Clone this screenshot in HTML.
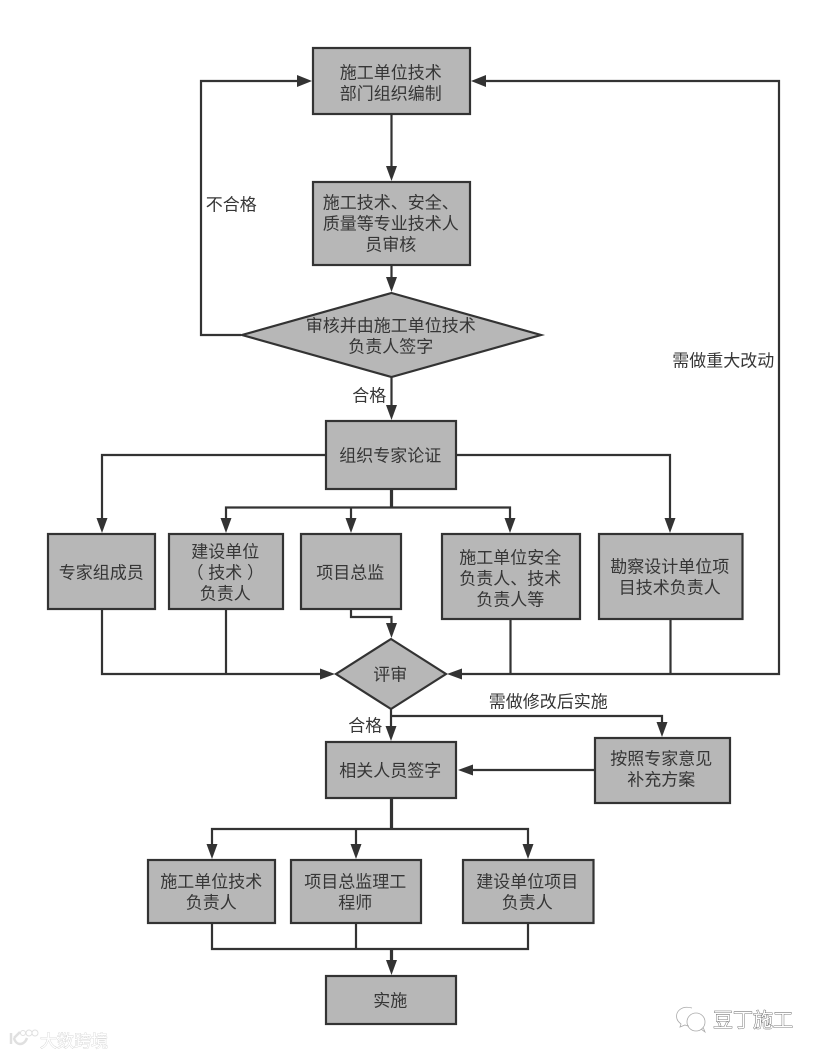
<!DOCTYPE html>
<html lang="zh">
<head>
<meta charset="utf-8">
<title>流程图</title>
<style>
html,body{margin:0;padding:0;background:#fff}
svg{display:block}
text{font-family:"Liberation Sans","Noto Sans CJK SC",sans-serif;font-size:17px;fill:#363636;text-anchor:middle}
.b{fill:#b7b7b7;stroke:#333;stroke-width:2.2}
.l{fill:none;stroke:#333;stroke-width:2.2}
.t{fill:none;stroke:#333;stroke-width:3.2}
.a{fill:#333;stroke:none}
</style>
</head>
<body>
<svg width="820" height="1056" viewBox="0 0 820 1056" xmlns="http://www.w3.org/2000/svg">
<rect width="820" height="1056" fill="#fff"/>

<!-- connectors -->
<path class="l" d="M391.500 114V167"/>
<path class="l" d="M241 335H201V81H298"/>
<path class="l" d="M486 81H779V674H460"/>
<path class="l" d="M391.500 265V280"/>
<path class="l" d="M391.500 377V407"/>
<path class="l" d="M326 455H102V519"/>
<path class="l" d="M456 455H670V519"/>
<path class="t" d="M391.500 489V507.500"/>
<path class="l" d="M226 519V507.500H510V519"/>
<path class="l" d="M351 507.500V519"/>
<path class="l" d="M102 609V674H322"/>
<path class="l" d="M226 609V674"/>
<path class="l" d="M351 609V617H391.500V625"/>
<path class="l" d="M510.500 619V674"/>
<path class="l" d="M670.500 619V674"/>
<path class="l" d="M391 709V728"/>
<path class="l" d="M391 716H662V724"/>
<path class="l" d="M595 770H472"/>
<path class="t" d="M391.500 798V829"/>
<path class="l" d="M212 846V829H528V846"/>
<path class="l" d="M356 829V846"/>
<path class="l" d="M212 923V949H528V923"/>
<path class="l" d="M356 923V949"/>
<path class="t" d="M391.500 949V962"/>

<!-- arrowheads -->
<path class="a" d="M312 81L297 75V87Z"/>
<path class="a" d="M471 81L486 75V87Z"/>
<path class="a" d="M391.500 181L386 166H397Z"/>
<path class="a" d="M391.500 292L386 277H397Z"/>
<path class="a" d="M391.500 420L386 405H397Z"/>
<path class="a" d="M102 533L96.500 518H107.500Z"/>
<path class="a" d="M226 533L220.500 518H231.500Z"/>
<path class="a" d="M351 533L345.500 518H356.500Z"/>
<path class="a" d="M510 533L504.500 518H515.500Z"/>
<path class="a" d="M670 533L664.500 518H675.500Z"/>
<path class="a" d="M391.500 638L386 623H397Z"/>
<path class="a" d="M335 674L320 668.500V679.500Z"/>
<path class="a" d="M447 674L462 668.500V679.500Z"/>
<path class="a" d="M391 741L385.500 726H396.500Z"/>
<path class="a" d="M662 737L656.500 722H667.500Z"/>
<path class="a" d="M458 770L473 764.500V775.500Z"/>
<path class="a" d="M212 859L206.500 844H217.500Z"/>
<path class="a" d="M356 859L350.500 844H361.500Z"/>
<path class="a" d="M528 859L522.500 844H533.500Z"/>
<path class="a" d="M391.500 975L386 960H397Z"/>

<!-- nodes -->
<rect class="b" x="313" y="48" width="157" height="66"/>
<rect class="b" x="313" y="182" width="157" height="83"/>
<polygon class="b" points="391.500,293 541,335 391.500,377 242,335"/>
<rect class="b" x="326" y="421" width="130" height="68"/>
<rect class="b" x="48" y="534" width="107" height="75"/>
<rect class="b" x="169" y="534" width="114" height="75"/>
<rect class="b" x="301" y="534" width="100" height="75"/>
<rect class="b" x="442" y="534" width="138" height="85"/>
<rect class="b" x="599" y="534" width="143.500" height="85"/>
<polygon class="b" points="391,639 446,674 391,709 336,674"/>
<rect class="b" x="326" y="742" width="130" height="56"/>
<rect class="b" x="595" y="738" width="135" height="65"/>
<rect class="b" x="148" y="860" width="127" height="63"/>
<rect class="b" x="291" y="860" width="130" height="63"/>
<rect class="b" x="463" y="860" width="130.500" height="63"/>
<rect class="b" x="326" y="976" width="130" height="48"/>

<g transform="translate(-.7,.6)">
<!-- node text -->
<text x="391.500" y="78">施工单位技术</text>
<text x="391.500" y="99">部门组织编制</text>
<text x="391.500" y="208">施工技术、安全、</text>
<text x="391.500" y="229">质量等专业技术人</text>
<text x="391.500" y="250">员审核</text>
<text x="391.500" y="331">审核并由施工单位技术</text>
<text x="391.500" y="352">负责人签字</text>
<text x="391" y="461">组织专家论证</text>
<text x="102" y="578">专家组成员</text>
<text x="226" y="557">建设单位</text>
<text x="226" y="578">（ 技术 ）</text>
<text x="226" y="599">负责人</text>
<text x="351" y="578">项目总监</text>
<text x="511" y="563">施工单位安全</text>
<text x="511" y="584">负责人、技术</text>
<text x="511" y="605">负责人等</text>
<text x="670.500" y="572">勘察设计单位项</text>
<text x="670.500" y="593">目技术负责人</text>
<text x="391" y="680">评审</text>
<text x="391" y="776">相关人员签字</text>
<text x="662" y="764">按照专家意见</text>
<text x="662" y="785">补充方案</text>
<text x="212" y="887">施工单位技术</text>
<text x="212" y="908">负责人</text>
<text x="356" y="887">项目总监理工</text>
<text x="356" y="908">程师</text>
<text x="528" y="887">建设单位项目</text>
<text x="528" y="908">负责人</text>
<text x="391" y="1006">实施</text>

<!-- edge labels -->
<text x="232" y="210">不合格</text>
<text x="724" y="366">需做重大改动</text>
<text x="370" y="401">合格</text>
<text x="366" y="731">合格</text>
<text x="549" y="707">需做修改后实施</text>
</g>

<!-- watermark left -->
<g opacity=".9">
<path d="M11 1033V1044M14 1038L20 1032M14 1038C16 1046 24 1046 27 1038" fill="none" stroke="#ddd" stroke-width="2.500"/>
<circle cx="23" cy="1033" r="2.500" fill="none" stroke="#ddd"/>
<circle cx="29" cy="1033" r="3" fill="none" stroke="#ddd"/>
<circle cx="35" cy="1033" r="3" fill="none" stroke="#ddd"/>
<text x="74" y="1047" style="font-size:17px;fill:#fff;stroke:#cfcfcf;stroke-width:.8;paint-order:stroke">大数跨境</text>
</g>

<!-- watermark right -->
<g fill="none" stroke="#aaa" stroke-width=".8">
<path d="M692 1008C681 1005 675 1012 677 1019C678 1022 680 1023 681 1024L680 1027L685 1025C687 1026 688 1026 689 1026"/>
<circle cx="696" cy="1022" r="9"/>
<path d="M701 1029L705 1032L703 1027"/>
</g>
<text x="753" y="1027" style="font-size:20px;fill:#fff;stroke:#555;stroke-width:.8;paint-order:stroke">豆丁施工</text>
</svg>
</body>
</html>
